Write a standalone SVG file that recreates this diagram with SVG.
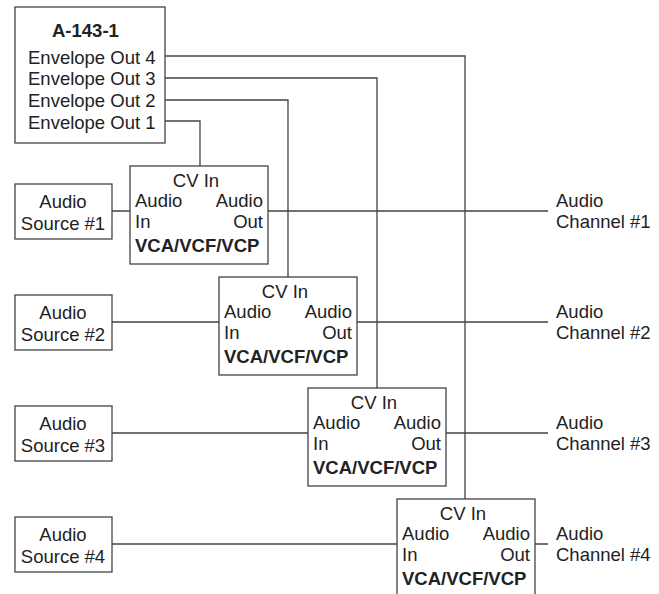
<svg xmlns="http://www.w3.org/2000/svg" width="659" height="594" viewBox="0 0 659 594">
<style>
.box{fill:#fff;stroke:#444;stroke-width:1.3}
.ln{fill:none;stroke:#444;stroke-width:1.3}
text{font-family:"Liberation Sans",Arial,sans-serif;font-size:18.5px;fill:#222}
.b{font-weight:bold}
.m{text-anchor:middle}
.e{text-anchor:end}
</style>
<rect width="659" height="594" fill="#fff"/>
<g id="connectors">
<path class="ln" d="M165,121H200V166"/>
<path class="ln" d="M165,100H288V277"/>
<path class="ln" d="M165,78H377V388"/>
<path class="ln" d="M165,56H465V499"/>
<path class="ln" d="M112,211H130M268,211H548"/>
<path class="ln" d="M112,322H219M357,322H548"/>
<path class="ln" d="M112,433H308M446,433H548"/>
<path class="ln" d="M112,544H397M535,544H548"/>
</g>
<g id="a143">
<rect class="box" x="15" y="7" width="150" height="136"/>
<text class="b" x="52" y="37">A-143-1</text>
<text x="28" y="63.5">Envelope Out 4</text>
<text x="28" y="85">Envelope Out 3</text>
<text x="28" y="107">Envelope Out 2</text>
<text x="28" y="128.5">Envelope Out 1</text>
</g>
<g id="src1"><rect class="box" x="15" y="184" width="97" height="55"/><text class="m" x="63" y="208">Audio</text><text class="m" x="63" y="230">Source #1</text></g>
<g id="src2"><rect class="box" x="15" y="295" width="97" height="55"/><text class="m" x="63" y="319">Audio</text><text class="m" x="63" y="341">Source #2</text></g>
<g id="src3"><rect class="box" x="15" y="406" width="97" height="55"/><text class="m" x="63" y="430">Audio</text><text class="m" x="63" y="452">Source #3</text></g>
<g id="src4"><rect class="box" x="15" y="517" width="97" height="55"/><text class="m" x="63" y="541">Audio</text><text class="m" x="63" y="563">Source #4</text></g>
<g id="mod1" transform="translate(130,166)"><rect class="box" width="138" height="98"/><text class="m" x="66" y="20.7">CV In</text><text x="5" y="41">Audio</text><text class="e" x="133" y="41">Audio</text><text x="5" y="62">In</text><text class="e" x="133" y="62">Out</text><text class="b" x="5" y="85.7">VCA/VCF/VCP</text></g>
<g id="mod2" transform="translate(219,277)"><rect class="box" width="138" height="98"/><text class="m" x="66" y="20.7">CV In</text><text x="5" y="41">Audio</text><text class="e" x="133" y="41">Audio</text><text x="5" y="62">In</text><text class="e" x="133" y="62">Out</text><text class="b" x="5" y="85.7">VCA/VCF/VCP</text></g>
<g id="mod3" transform="translate(308,388)"><rect class="box" width="138" height="98"/><text class="m" x="66" y="20.7">CV In</text><text x="5" y="41">Audio</text><text class="e" x="133" y="41">Audio</text><text x="5" y="62">In</text><text class="e" x="133" y="62">Out</text><text class="b" x="5" y="85.7">VCA/VCF/VCP</text></g>
<g id="mod4" transform="translate(397,499)"><rect class="box" width="138" height="98"/><text class="m" x="66" y="20.7">CV In</text><text x="5" y="41">Audio</text><text class="e" x="133" y="41">Audio</text><text x="5" y="62">In</text><text class="e" x="133" y="62">Out</text><text class="b" x="5" y="85.7">VCA/VCF/VCP</text></g>
<g id="ch1"><text x="556" y="207">Audio</text><text x="556" y="228">Channel #1</text></g>
<g id="ch2"><text x="556" y="318">Audio</text><text x="556" y="339">Channel #2</text></g>
<g id="ch3"><text x="556" y="429">Audio</text><text x="556" y="450">Channel #3</text></g>
<g id="ch4"><text x="556" y="540">Audio</text><text x="556" y="561">Channel #4</text></g>
</svg>
